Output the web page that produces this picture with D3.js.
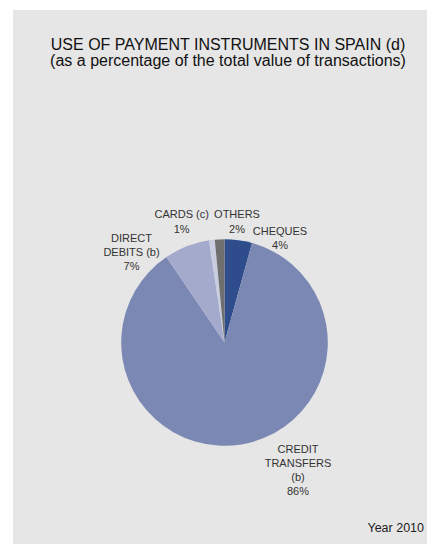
<!DOCTYPE html>
<html><head><meta charset="utf-8">
<script src="https://cdn.jsdelivr.net/npm/d3@7"></script>
<style>
html,body{margin:0;padding:0;background:#fff;}
svg{display:block;font-family:"Liberation Sans",Arial,sans-serif;}
</style></head>
<body>
<svg id="chart" width="427" height="544"></svg>
<script>
const categories = ["CHEQUES", "CREDIT TRANSFERS (b)", "DIRECT DEBITS (b)", "CARDS (c)", "OTHERS"];
const values = [4.3, 86.2, 7.1, 0.9, 1.5];
const percentLabels = ["4%", "86%", "7%", "1%", "2%"];
const labelLines = [["CHEQUES"], ["CREDIT", "TRANSFERS", "(b)"], ["DIRECT", "DEBITS (b)"], ["CARDS (c)"], ["OTHERS"]];
const colors = ["#2f4d8c", "#7b88b3", "#a3aacb", "#c9cde0", "#6f6f6f"];
const titleLines = ["USE OF PAYMENT INSTRUMENTS IN SPAIN (d)", "(as a percentage of the total value of transactions)"];
const footnote = "Year 2010";

const svg = d3.select("#chart");
svg.append("rect").attr("x", 13).attr("y", 10).attr("width", 414).attr("height", 534).attr("fill", "#e6e6e6");

svg.append("g").selectAll("text").data(titleLines).join("text")
  .attr("x", 228).attr("y", (d, i) => 50 + i * 16)
  .attr("text-anchor", "middle").attr("font-size", 16).attr("fill", "#111")
  .text(d => d);

const cx = 224.5, cy = 342.5, r = 103.3;
const data = categories.map((c, i) => ({cat: c, value: values[i], i}));
const pie = d3.pie().value(d => d.value).sort(null);
const arc = d3.arc().innerRadius(0).outerRadius(r);
const arcs = pie(data);

const g = svg.append("g").attr("transform", `translate(${cx},${cy})`);
g.selectAll("path").data(arcs).join("path")
  .attr("d", arc).attr("fill", d => colors[d.data.i]);

// label anchors (center x, first baseline y) for each slice
const labelPos = [[280, 234.5], [298, 452.7], [131.5, 241.7], [181.7, 218.3], [237, 218.3]];
const lg = svg.append("g").attr("font-size", 11).attr("fill", "#333").attr("text-anchor", "middle");
arcs.forEach(a => {
  const i = a.data.i;
  const lines = labelLines[i].concat([percentLabels[i]]);
  const t = lg.append("text");
  lines.forEach((ln, k) => {
    t.append("tspan").attr("x", labelPos[i][0]).attr("y", labelPos[i][1] + k * 14.2).text(ln);
  });
});

svg.append("text").attr("x", 424).attr("y", 531.5).attr("text-anchor", "end")
  .attr("font-size", 12.5).attr("fill", "#222").text(footnote);
</script>
</body></html>
